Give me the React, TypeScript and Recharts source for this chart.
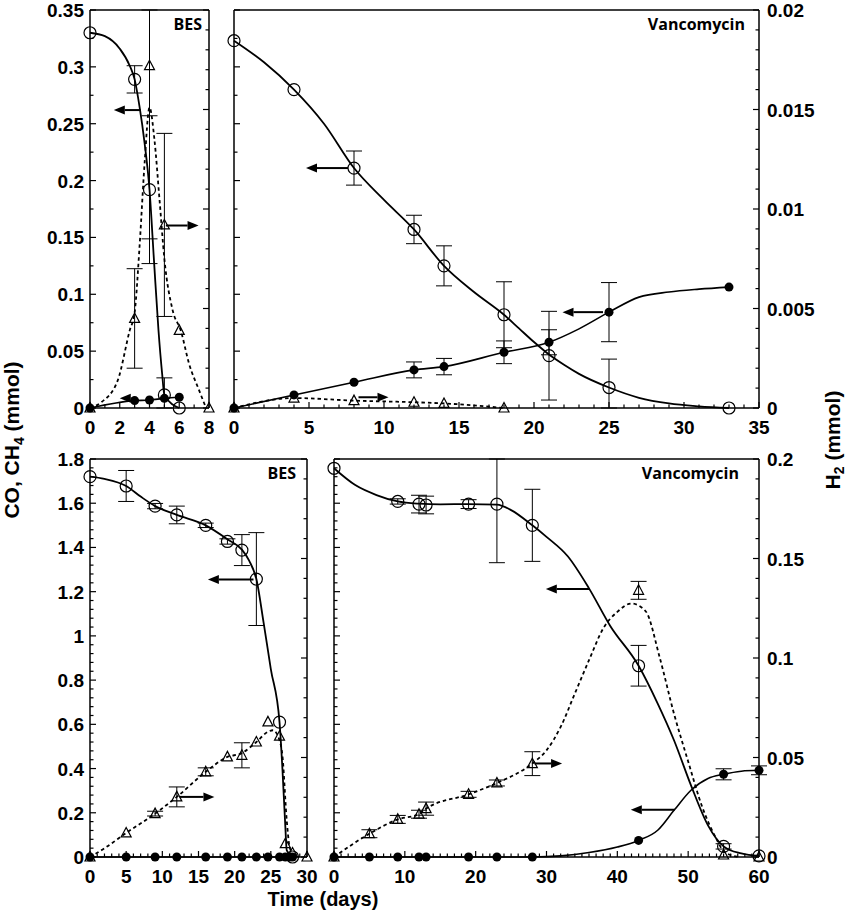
import React from 'react'
import { ComposedChart, Line, Scatter, XAxis, YAxis, ErrorBar, ReferenceLine } from 'recharts'

type Pt = { x: number; y: number; err?: number }
type Arrow = { from: number; to: number; y: number; axis: 'L' | 'R' }

// tick labels
const X_TL = [0, 2, 4, 6, 8]
const X_TR = [0, 5, 10, 15, 20, 25, 30, 35]
const X_BL = [0, 5, 10, 15, 20, 25, 30]
const X_BR = [0, 10, 20, 30, 40, 50, 60]
const Y_TOP_L = [0, 0.05, 0.1, 0.15, 0.2, 0.25, 0.3, 0.35]
const Y_TOP_R = [0, 0.005, 0.01, 0.015, 0.02]
const Y_BOT_L = [0, 0.2, 0.4, 0.6, 0.8, 1, 1.2, 1.4, 1.6, 1.8]
const Y_BOT_R = [0, 0.05, 0.1, 0.15, 0.2]

// ---- top left: BES, CO, CH4 (left axis, mmol) and H2 (right axis, mmol)
const tlCO: Pt[] = [
  { x: 0, y: 0.33 }, { x: 3, y: 0.289, err: 0.012 }, { x: 4, y: 0.192, err: 0.065 },
  { x: 5, y: 0.0115, err: 0.015 }, { x: 6, y: 0 },
]
const tlCOFit: Pt[] = [
  { x: 0, y: 0.33 }, { x: 1, y: 0.327 }, { x: 2, y: 0.316 }, { x: 2.67, y: 0.301 }, { x: 3, y: 0.289 },
  { x: 3.33, y: 0.265 }, { x: 3.67, y: 0.233 }, { x: 4, y: 0.192 }, { x: 4.3, y: 0.13 },
  { x: 4.6, y: 0.069 }, { x: 4.85, y: 0.03 }, { x: 5, y: 0.0115 }, { x: 6, y: 0 },
]
const tlCH4: Pt[] = [
  { x: 0, y: 0 }, { x: 3, y: 0.0065 }, { x: 4, y: 0.007 }, { x: 5, y: 0.0085 }, { x: 6, y: 0.0095 },
]
const tlH2: Pt[] = [
  { x: 0, y: 0 }, { x: 3, y: 0.0045, err: 0.0025 }, { x: 4, y: 0.0172, err: 0.0087 },
  { x: 5, y: 0.0092, err: 0.0046 }, { x: 6, y: 0.0039 }, { x: 8, y: 0 },
]
const tlH2Fit: Pt[] = [
  { x: 0, y: 0 }, { x: 0.78, y: 0.0003 }, { x: 1.87, y: 0.0014 }, { x: 2.67, y: 0.0039 },
  { x: 3, y: 0.0048 }, { x: 3.33, y: 0.0081 }, { x: 3.67, y: 0.0123 }, { x: 4, y: 0.0151 },
  { x: 4.33, y: 0.0135 }, { x: 4.67, y: 0.0105 }, { x: 5, y: 0.0075 }, { x: 5.56, y: 0.0049 },
  { x: 6.1, y: 0.0039 }, { x: 6.67, y: 0.0022 }, { x: 7.33, y: 0.0009 }, { x: 7.8, y: 0 },
]
const tlArrows: Arrow[] = [
  { from: 3.4, to: 1.6, y: 0.262, axis: 'L' },
  { from: 2.8, to: 2.0, y: 0.0085, axis: 'L' },
  { from: 5.1, to: 7.3, y: 0.00917, axis: 'R' },
]

// ---- top right: Vancomycin
const trCO: Pt[] = [
  { x: 0, y: 0.323 }, { x: 4, y: 0.28 }, { x: 8, y: 0.211, err: 0.015 }, { x: 12, y: 0.157, err: 0.0125 },
  { x: 14, y: 0.125, err: 0.0176 }, { x: 18, y: 0.082, err: 0.029 }, { x: 21, y: 0.046, err: 0.039 },
  { x: 25, y: 0.018, err: 0.025 }, { x: 33, y: 0 },
]
const trCOFit: Pt[] = [
  { x: 0, y: 0.323 }, { x: 2, y: 0.304 }, { x: 4, y: 0.28 }, { x: 6, y: 0.25 }, { x: 8, y: 0.211 },
  { x: 10, y: 0.183 }, { x: 12, y: 0.157 }, { x: 14, y: 0.125 }, { x: 16, y: 0.102 }, { x: 18, y: 0.082 },
  { x: 19, y: 0.07 }, { x: 20, y: 0.058 }, { x: 21, y: 0.047 }, { x: 22, y: 0.038 }, { x: 23, y: 0.03 },
  { x: 25, y: 0.018 }, { x: 27, y: 0.009 }, { x: 29, y: 0.004 }, { x: 31, y: 0.0015 }, { x: 33, y: 0 },
]
const trCH4: Pt[] = [
  { x: 0, y: 0 }, { x: 4, y: 0.0115 }, { x: 8, y: 0.0226 }, { x: 12, y: 0.0335, err: 0.007 },
  { x: 14, y: 0.0364, err: 0.0072 }, { x: 18, y: 0.049, err: 0.01 }, { x: 21, y: 0.0578, err: 0.011 },
  { x: 25, y: 0.0843, err: 0.026 }, { x: 33, y: 0.1063 },
]
const trCH4Fit: Pt[] = [
  { x: 0, y: 0 }, { x: 4, y: 0.0115 }, { x: 8, y: 0.0226 }, { x: 12, y: 0.0335 }, { x: 14, y: 0.0364 },
  { x: 18, y: 0.049 }, { x: 21, y: 0.0578 }, { x: 23, y: 0.0696 }, { x: 25, y: 0.0843 },
  { x: 27, y: 0.0975 }, { x: 29, y: 0.102 }, { x: 31, y: 0.1045 }, { x: 33, y: 0.1063 },
]
const trH2: Pt[] = [
  { x: 0, y: 0 }, { x: 4, y: 0.0005 }, { x: 8, y: 0.00037 }, { x: 12, y: 0.00029 },
  { x: 14, y: 0.00023 }, { x: 18, y: 0 },
]
const trArrows: Arrow[] = [
  { from: 7.6, to: 4.8, y: 0.211, axis: 'L' },
  { from: 24.6, to: 21.9, y: 0.0843, axis: 'L' },
  { from: 8.3, to: 10.3, y: 0.00054, axis: 'R' },
]

// ---- bottom left: BES
const blCO: Pt[] = [
  { x: 0, y: 1.72 }, { x: 5, y: 1.678, err: 0.07 }, { x: 9, y: 1.587, err: 0.012 },
  { x: 12, y: 1.547, err: 0.04 }, { x: 16, y: 1.5, err: 0.01 }, { x: 19, y: 1.427, err: 0.012 },
  { x: 21, y: 1.388, err: 0.07 }, { x: 23, y: 1.257, err: 0.21 }, { x: 26.2, y: 0.61 }, { x: 28, y: 0 },
]
const blCOFit: Pt[] = [
  { x: 0, y: 1.72 }, { x: 2, y: 1.71 }, { x: 5, y: 1.678 }, { x: 7, y: 1.63 }, { x: 9, y: 1.587 },
  { x: 12, y: 1.547 }, { x: 16, y: 1.5 }, { x: 19, y: 1.437 }, { x: 21, y: 1.39 }, { x: 22, y: 1.34 },
  { x: 23, y: 1.257 }, { x: 24, y: 1.06 }, { x: 25, y: 0.85 }, { x: 26.2, y: 0.61 }, { x: 26.6, y: 0.4 },
  { x: 27, y: 0.14 }, { x: 27.2, y: 0.03 }, { x: 28, y: 0 },
]
const blCH4: Pt[] = [
  { x: 0, y: 0 }, { x: 5, y: 0 }, { x: 9, y: 0 }, { x: 12, y: 0 }, { x: 16, y: 0 }, { x: 19, y: 0 },
  { x: 21, y: 0 }, { x: 23, y: 0 }, { x: 24.6, y: 0 }, { x: 26.2, y: 0 }, { x: 27, y: 0 },
  { x: 27.6, y: 0 }, { x: 28, y: 0 },
]
const blH2: Pt[] = [
  { x: 0, y: 0 }, { x: 5, y: 0.0121 }, { x: 9, y: 0.0218, err: 0.0012 }, { x: 12, y: 0.0302, err: 0.005 },
  { x: 16, y: 0.0428, err: 0.002 }, { x: 19, y: 0.0503 }, { x: 21, y: 0.0511, err: 0.0063 },
  { x: 23, y: 0.0578 }, { x: 24.6, y: 0.0679 }, { x: 26.2, y: 0.0607 }, { x: 27, y: 0.0067 },
  { x: 28, y: 0.002 }, { x: 30, y: 0 },
]
const blH2Fit: Pt[] = [
  { x: 0, y: 0 }, { x: 2, y: 0.0044 }, { x: 5, y: 0.0121 }, { x: 9, y: 0.0218 }, { x: 12, y: 0.0302 },
  { x: 16, y: 0.0428 }, { x: 19, y: 0.0503 }, { x: 21, y: 0.0522 }, { x: 23, y: 0.0578 },
  { x: 24.6, y: 0.0629 }, { x: 25.3, y: 0.0637 }, { x: 26.2, y: 0.0587 }, { x: 26.6, y: 0.0511 },
  { x: 27.2, y: 0.0184 }, { x: 27.6, y: 0.005 }, { x: 28.3, y: 0 },
]
const blArrows: Arrow[] = [
  { from: 22.6, to: 16.3, y: 1.255, axis: 'L' },
  { from: 12.4, to: 17.2, y: 0.0302, axis: 'R' },
]

// ---- bottom right: Vancomycin
const brCO: Pt[] = [
  { x: 0, y: 1.758 }, { x: 9, y: 1.608, err: 0.012 }, { x: 12, y: 1.596, err: 0.04 },
  { x: 13, y: 1.592, err: 0.04 }, { x: 19, y: 1.596, err: 0.02 }, { x: 23, y: 1.596, err: 0.265 },
  { x: 28, y: 1.5, err: 0.163 }, { x: 43, y: 0.865, err: 0.092 }, { x: 55, y: 0.048, err: 0.012 },
  { x: 60, y: 0.005 },
]
const brCOFit: Pt[] = [
  { x: 0, y: 1.758 }, { x: 3, y: 1.682 }, { x: 6, y: 1.637 }, { x: 9, y: 1.608 }, { x: 12, y: 1.598 },
  { x: 15, y: 1.595 }, { x: 19, y: 1.596 }, { x: 23, y: 1.594 }, { x: 25, y: 1.569 }, { x: 28, y: 1.5 },
  { x: 30, y: 1.448 }, { x: 33, y: 1.36 }, { x: 36, y: 1.215 }, { x: 39, y: 1.045 }, { x: 43, y: 0.865 },
  { x: 45.7, y: 0.694 }, { x: 48, y: 0.528 }, { x: 50.4, y: 0.324 }, { x: 52.8, y: 0.143 },
  { x: 55, y: 0.048 }, { x: 57.5, y: 0.016 }, { x: 60, y: 0.005 },
]
const brCH4: Pt[] = [
  { x: 0, y: 0 }, { x: 5, y: 0 }, { x: 9, y: 0 }, { x: 12, y: 0 }, { x: 13, y: 0 }, { x: 19, y: 0 },
  { x: 23, y: 0 }, { x: 28, y: 0 }, { x: 43, y: 0.075 }, { x: 55, y: 0.374, err: 0.025 },
  { x: 60, y: 0.392, err: 0.02 },
]
const brCH4Fit: Pt[] = [
  { x: 0, y: 0 }, { x: 28, y: 0 }, { x: 32, y: 0.005 }, { x: 36, y: 0.02 }, { x: 40, y: 0.045 },
  { x: 43, y: 0.075 }, { x: 45.7, y: 0.121 }, { x: 48, y: 0.211 }, { x: 50.4, y: 0.302 },
  { x: 52.8, y: 0.355 }, { x: 55, y: 0.374 }, { x: 57.5, y: 0.388 }, { x: 60, y: 0.392 },
]
const brH2: Pt[] = [
  { x: 0, y: 0 }, { x: 5, y: 0.0117, err: 0.002 }, { x: 9, y: 0.0189, err: 0.002 },
  { x: 12, y: 0.0215, err: 0.002 }, { x: 13, y: 0.0243, err: 0.0033 }, { x: 19, y: 0.0315, err: 0.0015 },
  { x: 23, y: 0.0372, err: 0.0015 }, { x: 28, y: 0.0469, err: 0.006 }, { x: 43, y: 0.134, err: 0.0045 },
  { x: 55, y: 0.001 }, { x: 60, y: 0 },
]
const brH2Fit: Pt[] = [
  { x: 0, y: 0 }, { x: 5, y: 0.0117 }, { x: 9, y: 0.0189 }, { x: 12, y: 0.0215 }, { x: 13, y: 0.0243 },
  { x: 19, y: 0.0315 }, { x: 23, y: 0.0372 }, { x: 28, y: 0.047 }, { x: 30, y: 0.0536 },
  { x: 32, y: 0.0654 }, { x: 34, y: 0.0821 }, { x: 36, y: 0.0989 }, { x: 38, y: 0.1148 },
  { x: 40, y: 0.1232 }, { x: 42, y: 0.1274 }, { x: 44, y: 0.1235 }, { x: 46, y: 0.1 },
  { x: 48, y: 0.072 }, { x: 50, y: 0.048 }, { x: 52, y: 0.025 }, { x: 54, y: 0.009 },
  { x: 55, y: 0.003 }, { x: 57, y: 0 },
]
const brArrows: Arrow[] = [
  { from: 36.1, to: 29.9, y: 1.2115, axis: 'L' },
  { from: 48.1, to: 41.9, y: 0.214, axis: 'L' },
  { from: 28.3, to: 32.2, y: 0.047, axis: 'R' },
]

const FONT = '"Liberation Sans", Arial, Helvetica, sans-serif'
const LABEL_FONT = '"Open Sans", "Noto Sans", sans-serif'
const AXIS = { stroke: '#000', strokeWidth: 1.5 }
const PAD = 60

function steps(max: number, step: number) {
  const out: number[] = []
  for (let i = 0; i * step <= max + 1e-9; i++) out.push(Math.round(i * step * 1e6) / 1e6)
  return out
}

// error bars are cut at the frame, as in the original
function withErr(pts: Pt[], max: number) {
  return pts.map((p) => ({
    x: p.x,
    y: p.y,
    e: p.err === undefined ? undefined : [Math.min(p.err, p.y), Math.min(p.err, max - p.y)],
  }))
}

function makeTick(side: 'bottom' | 'top' | 'left' | 'right', majors: number[], labeled: boolean) {
  return (props: any) => {
    const { x, y, payload } = props
    const v = payload.value as number
    const major = majors.find((m) => Math.abs(m - v) < 1e-7)
    const len = major !== undefined ? 6 : 3.5
    const ls = { stroke: '#000', strokeWidth: 1.2 }
    const ts = { fontFamily: FONT, fontSize: 19, fontWeight: 700, fill: '#000' }
    const show = labeled && major !== undefined
    if (side === 'bottom')
      return (
        <g>
          <line x1={x} x2={x} y1={y} y2={y - len} {...ls} />
          {show && <text x={x} y={y + 26} textAnchor="middle" {...ts}>{String(major)}</text>}
        </g>
      )
    if (side === 'top') return <line x1={x} x2={x} y1={y} y2={y + len} {...ls} />
    if (side === 'left')
      return (
        <g>
          <line x1={x} x2={x + len} y1={y} y2={y} {...ls} />
          {show && <text x={x - 6} y={y + 7} textAnchor="end" {...ts}>{String(major)}</text>}
        </g>
      )
    return (
      <g>
        <line x1={x} x2={x - len} y1={y} y2={y} {...ls} />
        {show && <text x={x + 8} y={y + 7} textAnchor="start" {...ts}>{String(major)}</text>}
      </g>
    )
  }
}

const OpenCircle = (p: any) => <circle cx={p.cx} cy={p.cy} r={6} fill="none" stroke="#000" strokeWidth={1.2} />
const FilledCircle = (p: any) => <circle cx={p.cx} cy={p.cy} r={4.5} fill="#000" />
const Triangle = (p: any) => (
  <polygon
    points={`${p.cx},${p.cy - 5.5} ${p.cx - 5},${p.cy + 4} ${p.cx + 5},${p.cy + 4}`}
    fill="none"
    stroke="#000"
    strokeWidth={1.2}
  />
)

const ArrowShape = (p: any) => {
  const { x1, y1, x2, y2 } = p
  const a = Math.atan2(y2 - y1, x2 - x1)
  const L = 11
  const bx = x2 - L * Math.cos(a)
  const by = y2 - L * Math.sin(a)
  const nx = -Math.sin(a) * 4.5
  const ny = Math.cos(a) * 4.5
  return (
    <g>
      <line x1={x1} y1={y1} x2={bx} y2={by} stroke="#000" strokeWidth={2} />
      <polygon points={`${x2},${y2} ${bx + nx},${by + ny} ${bx - nx},${by - ny}`} fill="#000" />
    </g>
  )
}

type PanelProps = {
  left: number
  top: number
  width: number
  height: number
  xMax: number
  xLabels: number[]
  lMax: number
  lMajors: number[]
  lMinor: number
  showL: boolean
  rMax: number
  rMajors: number[]
  rMinor: number
  showR: boolean
  co: Pt[]
  coFit: Pt[]
  ch4: Pt[]
  ch4Fit: Pt[]
  h2: Pt[]
  h2Fit: Pt[]
  arrows: Arrow[]
}

function Panel(p: PanelProps) {
  const xTicks = steps(p.xMax, 1)
  const lTicks = steps(p.lMax, p.lMinor)
  const rTicks = steps(p.rMax, p.rMinor)
  const common = { type: 'number' as const, interval: 0 as const, tickLine: false, tickSize: 0, tickMargin: 0, axisLine: AXIS }
  return (
    <div style={{ position: 'absolute', left: p.left - PAD, top: p.top - PAD }}>
      <ComposedChart width={p.width + PAD * 2} height={p.height + PAD * 2} margin={{ top: PAD - 1, right: 0, bottom: 0, left: 0 }}>
        <XAxis xAxisId="B" dataKey="x" domain={[0, p.xMax]} ticks={xTicks} height={PAD} tick={makeTick('bottom', p.xLabels, true)} {...common} />
        <XAxis xAxisId="T" orientation="top" dataKey="x" domain={[0, p.xMax]} ticks={xTicks} height={1} tick={makeTick('top', p.xLabels, false)} {...common} />
        <YAxis yAxisId="L" dataKey="y" domain={[0, p.lMax]} ticks={lTicks} width={PAD} tick={makeTick('left', p.lMajors, p.showL)} {...common} />
        <YAxis yAxisId="R" orientation="right" dataKey="y" domain={[0, p.rMax]} ticks={rTicks} width={PAD} tick={makeTick('right', p.rMajors, p.showR)} {...common} />

        <Line xAxisId="B" yAxisId="L" data={p.coFit} dataKey="y" type="monotone" dot={false} stroke="#000" strokeWidth={1.8} isAnimationActive={false} />
        <Line xAxisId="B" yAxisId="L" data={p.ch4Fit} dataKey="y" type="monotone" dot={false} stroke="#000" strokeWidth={1.6} isAnimationActive={false} />
        <Line xAxisId="B" yAxisId="R" data={p.h2Fit} dataKey="y" type="monotone" dot={false} stroke="#000" strokeWidth={1.8} strokeDasharray="3.5 3" isAnimationActive={false} />

        <Scatter xAxisId="B" yAxisId="L" data={withErr(p.co, p.lMax)} dataKey="y" shape={OpenCircle} isAnimationActive={false}>
          <ErrorBar dataKey="e" direction="y" width={8} stroke="#000" strokeWidth={1} />
        </Scatter>
        <Scatter xAxisId="B" yAxisId="L" data={withErr(p.ch4, p.lMax)} dataKey="y" shape={FilledCircle} isAnimationActive={false}>
          <ErrorBar dataKey="e" direction="y" width={8} stroke="#000" strokeWidth={1} />
        </Scatter>
        <Scatter xAxisId="B" yAxisId="R" data={withErr(p.h2, p.rMax)} dataKey="y" shape={Triangle} isAnimationActive={false}>
          <ErrorBar dataKey="e" direction="y" width={8} stroke="#000" strokeWidth={1} />
        </Scatter>

        {p.arrows.map((a, i) => (
          <ReferenceLine
            key={i}
            xAxisId="B"
            yAxisId={a.axis}
            segment={[{ x: a.from, y: a.y }, { x: a.to, y: a.y }]}
            shape={ArrowShape}
            ifOverflow="visible"
          />
        ))}
      </ComposedChart>
    </div>
  )
}

export default function App() {
  const title = { fontFamily: FONT, fontWeight: 700, fill: '#000' }
  const panelLabel = { fontFamily: LABEL_FONT, fontWeight: 700, fontSize: 16, fill: '#000' }
  return (
    <div style={{ position: 'absolute', left: 0, top: 0, width: 851, height: 918, background: '#fff' }}>
      <Panel left={90} top={10} width={119} height={398} xMax={8} xLabels={X_TL}
        lMax={0.35} lMajors={Y_TOP_L} lMinor={0.025} showL
        rMax={0.02} rMajors={Y_TOP_R} rMinor={0.001} showR={false}
        co={tlCO} coFit={tlCOFit} ch4={tlCH4} ch4Fit={tlCH4} h2={tlH2} h2Fit={tlH2Fit} arrows={tlArrows} />
      <Panel left={234} top={10} width={525} height={398} xMax={35} xLabels={X_TR}
        lMax={0.35} lMajors={Y_TOP_L} lMinor={0.025} showL={false}
        rMax={0.02} rMajors={Y_TOP_R} rMinor={0.001} showR
        co={trCO} coFit={trCOFit} ch4={trCH4} ch4Fit={trCH4Fit} h2={trH2} h2Fit={trH2} arrows={trArrows} />
      <Panel left={90} top={459} width={217} height={398} xMax={30} xLabels={X_BL}
        lMax={1.8} lMajors={Y_BOT_L} lMinor={0.04} showL
        rMax={0.2} rMajors={Y_BOT_R} rMinor={0.01} showR={false}
        co={blCO} coFit={blCOFit} ch4={blCH4} ch4Fit={blCH4} h2={blH2} h2Fit={blH2Fit} arrows={blArrows} />
      <Panel left={334} top={459} width={425} height={398} xMax={60} xLabels={X_BR}
        lMax={1.8} lMajors={Y_BOT_L} lMinor={0.04} showL={false}
        rMax={0.2} rMajors={Y_BOT_R} rMinor={0.01} showR
        co={brCO} coFit={brCOFit} ch4={brCH4} ch4Fit={brCH4Fit} h2={brH2} h2Fit={brH2Fit} arrows={brArrows} />

      <svg width={851} height={918} style={{ position: 'absolute', left: 0, top: 0, pointerEvents: 'none' }}>
        <text transform="translate(19,440) rotate(-90)" textAnchor="middle" fontSize={21} {...title}>
          CO, CH<tspan fontSize={14} dy={5}>4</tspan><tspan dy={-5}> (mmol)</tspan>
        </text>
        <text transform="translate(840,440) rotate(-90)" textAnchor="middle" fontSize={21} {...title}>
          H<tspan fontSize={14} dy={4}>2</tspan><tspan dy={-4}> (mmol)</tspan>
        </text>
        <text x={323} y={906} textAnchor="middle" fontSize={20} {...title}>Time (days)</text>
        <text x={202} y={30} textAnchor="end" {...panelLabel}>BES</text>
        <text x={745} y={30} textAnchor="end" {...panelLabel}>Vancomycin</text>
        <text x={296} y={479} textAnchor="end" {...panelLabel}>BES</text>
        <text x={739} y={479} textAnchor="end" {...panelLabel}>Vancomycin</text>
      </svg>
    </div>
  )
}
